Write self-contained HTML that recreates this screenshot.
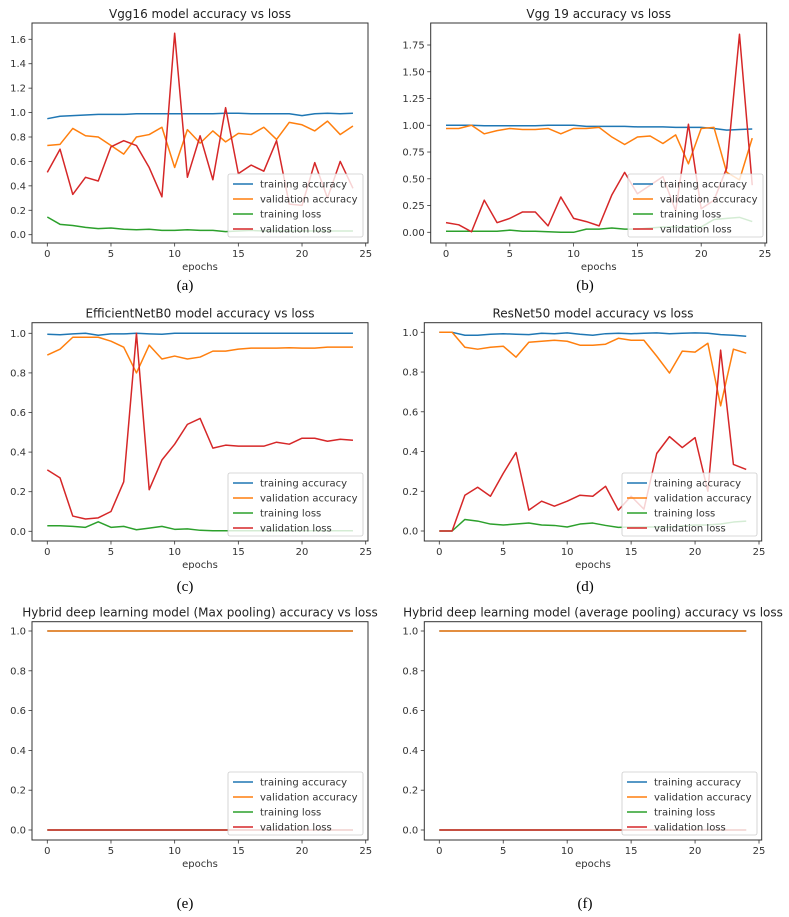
<!DOCTYPE html>
<html><head><meta charset="utf-8"><style>
html,body{margin:0;padding:0;background:#fff;}
svg{display:block;font-family:"DejaVu Sans","Liberation Sans",sans-serif;}
</style></head><body>
<svg id="fig" width="789" height="917" viewBox="0 0 789 917"></svg>
<script>
const epochs = Array.from({length:25},(_,i)=>i);
const labels = ["training accuracy","validation accuracy","training loss","validation loss"];
const colors = ["#1f77b4","#ff7f0e","#2ca02c","#d62728"];
const xTicks = [0,5,10,15,20,25];

const aTrainAcc=[.95,.97,.975,.98,.985,.985,.985,.99,.99,.99,.99,.99,.99,.99,.995,.995,.99,.99,.99,.99,.975,.99,.995,.99,.995];
const aValAcc=[.73,.74,.87,.81,.80,.73,.66,.80,.82,.88,.55,.86,.75,.85,.76,.83,.82,.88,.78,.92,.90,.85,.93,.82,.89];
const aTrainLoss=[.145,.085,.075,.06,.05,.055,.045,.04,.045,.035,.035,.04,.035,.035,.025,.03,.035,.03,.03,.03,.03,.03,.03,.03,.03];
const aValLoss=[.51,.70,.33,.47,.44,.72,.77,.73,.55,.31,1.65,.47,.81,.45,1.04,.50,.57,.52,.77,.25,.24,.59,.30,.60,.38];

const bTrainAcc=[1,1,1,.995,.995,.995,.995,.995,1,1,1,.99,.99,.99,.99,.985,.985,.985,.98,.98,.98,.97,.955,.96,.965];
const bValAcc=[.97,.97,1,.92,.95,.97,.96,.96,.97,.92,.97,.97,.98,.89,.82,.89,.90,.83,.91,.64,.97,.98,.56,.49,.88];
const bTrainLoss=[.01,.01,.01,.01,.01,.02,.01,.01,.005,0,0,.03,.03,.04,.03,.03,.04,.05,.05,.05,.05,.12,.13,.14,.10];
const bValLoss=[.09,.07,.005,.30,.09,.13,.19,.19,.06,.33,.13,.10,.06,.35,.56,.36,.44,.52,.20,1.01,.22,.30,.60,1.85,.44];

const cTrainAcc=[.995,.993,.997,1,.99,.997,.997,1,.997,.995,1,1,1,1,1,1,1,1,1,1,1,1,1,1,1];
const cValAcc=[.89,.92,.98,.98,.98,.96,.93,.80,.94,.87,.885,.87,.88,.91,.91,.92,.925,.925,.925,.927,.925,.925,.93,.93,.93];
const cTrainLoss=[.028,.028,.025,.02,.048,.02,.025,.008,.016,.025,.01,.012,.005,.003,.003,.003,.003,.003,.003,.003,.003,.003,.003,.003,.003];
const cValLoss=[.31,.27,.077,.062,.068,.10,.25,1.0,.21,.36,.44,.54,.57,.42,.435,.43,.43,.43,.45,.44,.47,.47,.455,.465,.46];

const dTrainAcc=[1,1,.985,.985,.99,.993,.99,.988,.995,.993,.997,.99,.985,.993,.995,.993,.995,.997,.993,.995,.997,.995,.988,.985,.98];
const dValAcc=[1,1,.925,.915,.925,.93,.875,.95,.955,.96,.955,.935,.935,.94,.97,.96,.96,.88,.795,.905,.90,.945,.63,.915,.895];
const dTrainLoss=[0,0,.058,.05,.035,.03,.035,.04,.03,.028,.02,.035,.04,.028,.018,.02,.02,.02,.02,.025,.03,.03,.035,.045,.05];
const dValLoss=[0,0,.18,.22,.175,.29,.395,.105,.15,.125,.15,.18,.175,.225,.105,.175,.11,.39,.475,.42,.47,.20,.91,.335,.31];

const eTrainAcc=Array(25).fill(1), eValAcc=Array(25).fill(1), eTrainLoss=Array(25).fill(0), eValLoss=Array(25).fill(0);
const fTrainAcc=Array(25).fill(1), fValAcc=Array(25).fill(1), fTrainLoss=Array(25).fill(0), fValLoss=Array(25).fill(0);

const yTicksA=[0,.2,.4,.6,.8,1.0,1.2,1.4,1.6];
const yTicksB=[0,.25,.5,.75,1.0,1.25,1.5,1.75];
const yTicksStd=[0,.2,.4,.6,.8,1.0];

const panels=[
 {id:"a",title:"Vgg16 model accuracy vs loss",box:[32,23,368,243],x0:47.3,x25:365.7,yv0:0,yp0:234.7,yv1:1.6,yp1:39.3,ticks:yTicksA,dec:1,leg:[228,174],sub:[185,290],series:[aTrainAcc,aValAcc,aTrainLoss,aValLoss]},
 {id:"b",title:"Vgg 19 accuracy vs loss",box:[430.7,23,766.7,243],x0:446,x25:765,yv0:0,yp0:232.3,yv1:1.75,yp1:45,ticks:yTicksB,dec:2,leg:[628,174],sub:[585,290],series:[bTrainAcc,bValAcc,bTrainLoss,bValLoss]},
 {id:"c",title:"EfficientNetB0  model accuracy vs loss",box:[32,322.7,368,541],x0:47.3,x25:365.7,yv0:0,yp0:531.3,yv1:1,yp1:333.3,ticks:yTicksStd,dec:1,leg:[228,473],sub:[185,591],series:[cTrainAcc,cValAcc,cTrainLoss,cValLoss]},
 {id:"d",title:"ResNet50 model accuracy vs loss",box:[424.3,322.7,761.7,541],x0:439.3,x25:759,yv0:0,yp0:531,yv1:1,yp1:332.3,ticks:yTicksStd,dec:1,leg:[622,473],sub:[585,591],series:[dTrainAcc,dValAcc,dTrainLoss,dValLoss]},
 {id:"e",title:"Hybrid deep learning model (Max pooling) accuracy vs loss",box:[32,621.7,368,840],x0:47.3,x25:365.7,yv0:0,yp0:830,yv1:1,yp1:631,ticks:yTicksStd,dec:1,leg:[228,772],sub:[185,908],series:[eTrainAcc,eValAcc,eTrainLoss,eValLoss]},
 {id:"f",title:"Hybrid deep learning model (average pooling) accuracy vs loss",box:[424.3,621.7,761.7,840],x0:439.3,x25:759,yv0:0,yp0:830,yv1:1,yp1:631,ticks:yTicksStd,dec:1,leg:[622,772],sub:[585,908],series:[fTrainAcc,fValAcc,fTrainLoss,fValLoss]}
];

const NS="http://www.w3.org/2000/svg";
const fig=document.getElementById("fig");
function mk(tag,attrs,parent,text){const e=document.createElementNS(NS,tag);for(const k in attrs)e.setAttribute(k,attrs[k]);if(text!==undefined)e.textContent=text;parent.appendChild(e);return e;}

panels.forEach(p=>{
 const g=mk("g",{},fig);
 
 
 const xs=v=>p.x0+(p.x25-p.x0)*v/25;
 const ys=v=>p.yp0+(p.yp1-p.yp0)*(v-p.yv0)/(p.yv1-p.yv0);
 const [L,T,R,B]=p.box;
 const cx=(L+R)/2;
 const t=mk("text",{x:cx,y:T-5,"text-anchor":"middle","font-size":"12","fill":"#222"},g,p.title);
 
 
 // ticks
 xTicks.forEach(v=>{
  const x=xs(v);
  mk("line",{x1:x,y1:B,x2:x,y2:B+3.5,stroke:"#333","stroke-width":"0.8"},g);
  const tx=mk("text",{x:x,y:B+14,"text-anchor":"middle","font-size":"10","fill":"#333"},g,String(v));
  
  
 });
 p.ticks.forEach(v=>{
  const y=ys(v);
  mk("line",{x1:L-3.5,y1:y,x2:L,y2:y,stroke:"#333","stroke-width":"0.8"},g);
  const ty=mk("text",{x:L-6,y:y+3.5,"text-anchor":"end","font-size":"10","fill":"#333"},g,v.toFixed(p.dec));
  
  
 });
 const xl=mk("text",{x:cx,y:B+27,"text-anchor":"middle","font-size":"10","fill":"#333"},g,"epochs");
 
 
 // series
 p.series.forEach((arr,i)=>{
  const pts=arr.map((v,j)=>xs(epochs[j]).toFixed(2)+","+ys(v).toFixed(2)).join(" ");
  const pl=mk("polyline",{points:pts,fill:"none",stroke:colors[i],"stroke-width":"1.5","stroke-linejoin":"round"},g);
  
  
 });
 // frame
 mk("rect",{x:L,y:T,width:R-L,height:B-T,fill:"none",stroke:"#333","stroke-width":"1"},g);
 // legend
 const [lx,ly]=p.leg;
 const lg=mk("g",{},g);
 
 
 mk("rect",{x:lx,y:ly,width:135,height:63,rx:2,fill:"rgba(255,255,255,0.8)",stroke:"#ccc","stroke-width":"0.8"},lg);
 labels.forEach((lab,i)=>{
  const yy=ly+10+i*15;
  mk("line",{x1:lx+5,y1:yy,x2:lx+25,y2:yy,stroke:colors[i],"stroke-width":"1.5"},lg);
  const le=mk("text",{x:lx+32,y:yy+3.5,"font-size":"10","fill":"#333"},lg,lab);
  
  
 });
 const s=mk("text",{x:p.sub[0],y:p.sub[1],"text-anchor":"middle","font-size":"15","fill":"#000","font-family":"Liberation Serif, serif"},g,"("+p.id+")");
 
 
});
</script>
</body></html>
